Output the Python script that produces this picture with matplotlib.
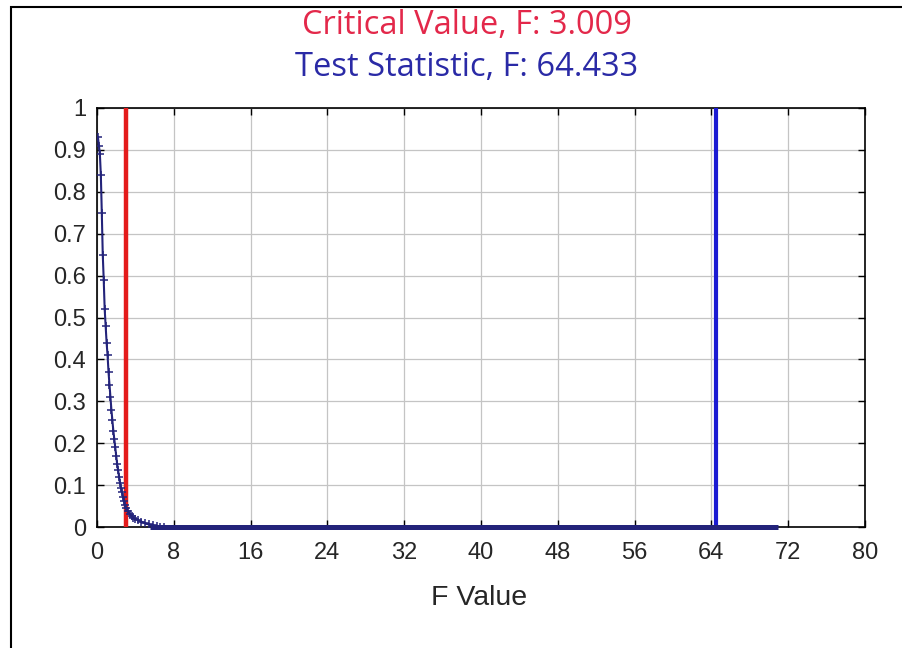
import numpy as np
import matplotlib
matplotlib.use("Agg")
import matplotlib.pyplot as plt
from matplotlib.patches import Rectangle

# Valeurs
f_vals = [0.1, 0.2, 0.3, 0.4, 0.5, 0.6, 0.7, 0.8, 0.9, 1.0,
          1.1, 1.2, 1.3, 1.4, 1.5, 1.6, 1.7, 1.8, 1.9, 2.0,
          2.1, 2.2, 2.3, 2.4, 2.5, 2.6, 2.7, 2.8, 2.9, 3.0,
          3.2, 3.4, 3.6, 3.8, 4.0, 4.3, 4.6, 5.0, 5.4, 5.8,
          6.2, 6.6, 7.0]
density = [0.93, 0.91, 0.89, 0.84, 0.75, 0.65, 0.59, 0.52, 0.48, 0.44,
           0.41, 0.37, 0.34, 0.31, 0.28, 0.255, 0.23, 0.21, 0.19, 0.17,
           0.15, 0.135, 0.12, 0.105, 0.094, 0.083, 0.072, 0.062, 0.053, 0.046,
           0.038, 0.032, 0.026, 0.022, 0.019, 0.016, 0.013, 0.009, 0.006, 0.004,
           0.002, 0.001, 0.0]
tail_f = [5.5, 70.9]
tail_density = [0.0, 0.0]

critical_f = 3.009
test_f = 64.433

x_ticks = [0, 8, 16, 24, 32, 40, 48, 56, 64, 72, 80]
y_ticks = [0, 0.1, 0.2, 0.3, 0.4, 0.5, 0.6, 0.7, 0.8, 0.9, 1]
y_labels = ["0", "0.1", "0.2", "0.3", "0.4", "0.5", "0.6", "0.7", "0.8", "0.9", "1"]

curve_color = "#23237a"
red = "#e41b1b"
blue = "#1a1ad2"

plt.rcParams['font.family'] = ['Liberation Sans', 'DejaVu Sans']

fig = plt.figure(figsize=(9.03, 6.48), dpi=100)
ax = fig.add_axes([97 / 903, 1 - 527 / 648, 768 / 903, 419 / 648])

# Lignes verticales
ax.plot([critical_f, critical_f], [0, 1], color=red, lw=3.2, zorder=3)
ax.plot([test_f, test_f], [0, 1], color=blue, lw=3, zorder=3)

# Densité F
ax.plot(f_vals, density, color=curve_color, lw=1.5, marker='+', ms=6, mew=1.1, zorder=4)
ax.plot(tail_f, tail_density, color=curve_color, lw=3.6, zorder=5, clip_on=False,
        solid_capstyle='butt')

ax.set_xlim(0, 80)
ax.set_ylim(0, 1)
ax.set_xticks(x_ticks)
ax.set_yticks(y_ticks)
ax.set_yticklabels(y_labels)
ax.grid(True, color="#c4c4c4", lw=0.9)
ax.set_axisbelow(True)
ax.tick_params(direction='in', length=5, width=1, top=True, right=True,
               labelsize=17, labelcolor="#262626")
ax.tick_params(axis='x', pad=11)
ax.tick_params(axis='y', pad=8)
for s in ax.spines.values():
    s.set_linewidth(1.2)
    s.set_color("black")

fig.text(479 / 903, 1 - 598 / 648, "F Value", ha='center', va='center',
         fontsize=20.5, color="#262626")

# Titres
fig.text(467 / 903, 1 - 26 / 648, "Critical Value, F: 3.009", ha='center', va='center',
         fontsize=23.5, color="#e3284a", family=['Open Sans', 'DejaVu Sans'])
fig.text(467 / 903, 1 - 67 / 648, "Test Statistic, F: 64.433", ha='center', va='center',
         fontsize=23.5, color="#2a2aa6", family=['Open Sans', 'DejaVu Sans'])

# Cadre de la fenêtre
fig.patches.append(Rectangle((11 / 903, -0.1), 1.2, 1 - 7 / 648 + 0.1,
                             transform=fig.transFigure, fill=False,
                             edgecolor="black", lw=1.5))

fig.savefig("out.png", dpi=100)
